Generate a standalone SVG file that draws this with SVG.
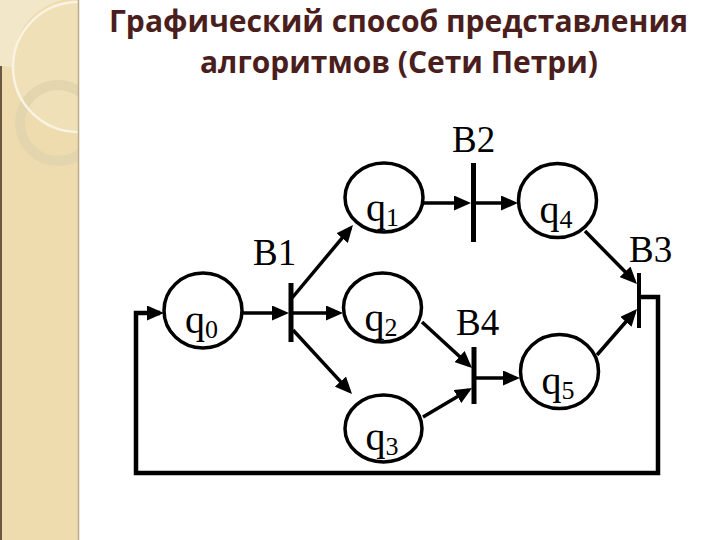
<svg xmlns="http://www.w3.org/2000/svg" width="720" height="540" viewBox="0 0 720 540">
  <defs>
    <marker id="ah" markerUnits="userSpaceOnUse" markerWidth="17" markerHeight="15" refX="13" refY="7.5" orient="auto">
      <path d="M0,0 L17,7.5 L0,15 z" fill="#000"/>
    </marker>
    <clipPath id="bandClip"><rect x="0" y="0" width="78" height="540"/></clipPath>
  </defs>
  <style>
    .title { font-family: "Open Sans", "Noto Sans", "Liberation Sans", sans-serif; font-weight: bold; font-size: 30px; fill: #4B1E1E; }
    .place { fill: none; stroke: #000; stroke-width: 3.5; }
    .bar { stroke: #000; stroke-width: 5; }
    .lbl { font-family: "Liberation Serif", "Times New Roman", serif; font-size: 37px; fill: #000; }
    .q { font-family: "Liberation Serif", "Times New Roman", serif; font-size: 40px; fill: #000; }
    .sub { font-size: 26px; }
    .arc { fill: none; stroke: #000; stroke-width: 3.5; marker-end: url(#ah); }
    .loop { fill: none; stroke: #000; stroke-width: 4.5; marker-end: url(#ah); }
  </style>

  <rect x="0" y="0" width="720" height="540" fill="#FFFFFF"/>

  <!-- decorative side band -->
  <g id="band" clip-path="url(#bandClip)">
    <rect x="0" y="0" width="78" height="540" fill="#EEDCAF"/>
    <path d="M0,0 L62,0 A65,65 0 0,0 13,67 L0,66 z" fill="#F3E7C9"/>
    <circle cx="78" cy="67" r="65" fill="#F1E3C0" fill-opacity="0.5"/>
    <circle cx="58" cy="123" r="38" fill="none" stroke="#E3D5AE" stroke-width="10"/>
    <circle cx="78" cy="67" r="65" fill="none" stroke="#FAF3E2" stroke-width="2.5"/>
  </g>
  <line x1="78.5" y1="0" x2="78.5" y2="540" stroke="#BDAA88" stroke-width="1.5"/>
  <line x1="1" y1="66" x2="1" y2="540" stroke="#6A5840" stroke-width="2"/>

  <!-- title -->
  <g id="title">
    <text class="title" x="109" y="32" textLength="579" lengthAdjust="spacingAndGlyphs">Графический способ представления</text>
    <text class="title" x="200" y="73" textLength="398" lengthAdjust="spacingAndGlyphs">алгоритмов (Сети Петри)</text>
  </g>

  <!-- connectors -->
  <g id="connectors">
    <path class="arc" d="M242,313 L285,313"/>
    <path class="arc" d="M292,298 L350.4,228.1"/>
    <path class="arc" d="M293,313 L339,313"/>
    <path class="arc" d="M293,330 L349.3,391.1"/>
    <path class="arc" d="M423,203 L467,203"/>
    <path class="arc" d="M476,203 L514,203"/>
    <path class="arc" d="M585,231 L634.2,281.1"/>
    <path class="arc" d="M597,355 L634.4,312"/>
    <path class="arc" d="M422,322 L469.1,365.3"/>
    <path class="arc" d="M423,417 L468.6,390"/>
    <path class="arc" d="M476,378 L516,378"/>
    <path class="loop" d="M641,297 L658,297 L658,473 L136,473 L136,313 L160,313"/>
  </g>

  <!-- places -->
  <g id="q0">
    <ellipse class="place" cx="203" cy="310.5" rx="39" ry="37.5"/>
    <text class="q" x="185" y="333">q<tspan class="sub" dy="5">0</tspan></text>
  </g>
  <g id="q1">
    <ellipse class="place" cx="384" cy="197.5" rx="39" ry="34.5"/>
    <text class="q" x="366" y="220.5">q<tspan class="sub" dy="5">1</tspan></text>
  </g>
  <g id="q2">
    <ellipse class="place" cx="382.5" cy="307.5" rx="39" ry="34.5"/>
    <text class="q" x="364.5" y="330.5">q<tspan class="sub" dy="5">2</tspan></text>
  </g>
  <g id="q3">
    <ellipse class="place" cx="383.5" cy="428.5" rx="38.5" ry="33.5"/>
    <text class="q" x="365.5" y="450">q<tspan class="sub" dy="5">3</tspan></text>
  </g>
  <g id="q4">
    <ellipse class="place" cx="557.5" cy="200.5" rx="39" ry="37"/>
    <text class="q" x="539.5" y="223">q<tspan class="sub" dy="5">4</tspan></text>
  </g>
  <g id="q5">
    <ellipse class="place" cx="559.5" cy="371.5" rx="39" ry="37"/>
    <text class="q" x="541.5" y="394">q<tspan class="sub" dy="5">5</tspan></text>
  </g>

  <!-- transitions -->
  <g id="B1">
    <line class="bar" x1="291" y1="283" x2="291" y2="342"/>
    <text class="lbl" x="253" y="265">B1</text>
  </g>
  <g id="B2">
    <line class="bar" x1="473.5" y1="163" x2="473.5" y2="242"/>
    <text class="lbl" x="452" y="152">B2</text>
  </g>
  <g id="B3">
    <line class="bar" x1="639" y1="273" x2="639" y2="328" style="stroke-width:4"/>
    <text class="lbl" x="629" y="262">B3</text>
  </g>
  <g id="B4">
    <line class="bar" x1="474" y1="347" x2="474" y2="404"/>
    <text class="lbl" x="456" y="335">B4</text>
  </g>
</svg>
